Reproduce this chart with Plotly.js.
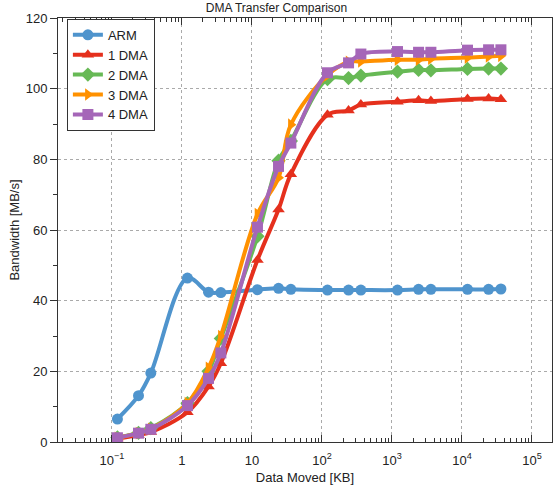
<!DOCTYPE html>
<html>
<head>
<meta charset="utf-8">
<script src="https://cdn.plot.ly/plotly-3.0.1.min.js"></script>
<style>html,body{margin:0;padding:0;background:#fff;}#chart{width:553px;height:488px;}</style>
</head>
<body>
<div id="chart"></div>
<script>
// Data moved [KB]
var dataMoved = [0.12, 0.24, 0.36, 1.2, 2.4, 3.6, 12, 24, 36, 120, 240, 360, 1200, 2400, 3600, 12000, 24000, 36000];
var seriesNames = ["ARM", "1 DMA", "2 DMA", "3 DMA", "4 DMA"];
var armBW  = [6.5, 13.1, 19.5, 46.4, 42.4, 42.3, 43.1, 43.5, 43.2, 43.0, 43.0, 43.0, 43.0, 43.2, 43.2, 43.2, 43.2, 43.3];
var dma1BW = [1.0, 2.0, 2.8, 8.4, 15.7, 22.3, 51.5, 65.8, 75.8, 92.6, 93.8, 95.5, 96.3, 96.7, 96.5, 97.1, 97.2, 97.0];
var dma2BW = [1.3, 2.6, 3.9, 11.0, 20.0, 29.3, 58.2, 79.6, 85.2, 102.7, 103.0, 103.7, 104.8, 105.3, 105.2, 105.6, 105.7, 105.7];
var dma3BW = [1.2, 2.5, 3.7, 11.0, 21.0, 30.0, 64.5, 74.8, 89.8, 103.8, 107.6, 107.7, 108.2, 108.2, 108.5, 108.8, 109.1, 109.3];
var dma4BW = [1.2, 2.5, 3.6, 10.3, 18.0, 25.2, 60.8, 78.0, 84.6, 104.5, 107.3, 109.8, 110.5, 110.3, 110.3, 110.9, 111.0, 111.0];
var xTickVals = [0.1, 1, 10, 100, 1000, 10000, 100000];
var xTickText = ["10<sup>\u22121</sup>", "1", "10", "10<sup>2</sup>", "10<sup>3</sup>", "10<sup>4</sup>", "10<sup>5</sup>"];

var colors = ["#4f94cd", "#e5301d", "#67b955", "#ff9100", "#a566b8"];
var symbols = ["circle", "triangle-up", "diamond", "triangle-right", "square"];
var ys = [armBW, dma1BW, dma2BW, dma3BW, dma4BW];

var minorVals = [];
for (var e = -2; e <= 5; e++) {
  for (var d = 2; d <= 9; d++) { minorVals.push(d * Math.pow(10, e)); }
}

var traces = ys.map(function (y, i) {
  return {
    x: dataMoved, y: y, name: seriesNames[i], type: "scatter", mode: "lines+markers",
    line: {color: colors[i], width: 4, shape: "spline", smoothing: 1},
    marker: {color: colors[i], symbol: symbols[i], size: 11, line: {width: 0}}
  };
});

var fontFam = "Liberation Sans, Arial, Helvetica, sans-serif";
var layout = {
  width: 553, height: 488,
  margin: {l: 58, r: 1, t: 18, b: 46},
  paper_bgcolor: "#fff", plot_bgcolor: "#fff",
  font: {family: fontFam, size: 13, color: "#222"},
  title: {text: "DMA Transfer Comparison", font: {size: 12, family: fontFam, color: "#222"}, x: 0.5, xanchor: "center", y: 0.985, yanchor: "middle"},
  showlegend: true,
  legend: {x: 0.018, y: 0.998, xanchor: "left", yanchor: "top", bgcolor: "#fff", bordercolor: "#333", borderwidth: 1, font: {size: 13}, itemwidth: 30},
  xaxis: {
    type: "log", range: [Math.log10(0.017), 5.286],
    tickmode: "array", tickvals: xTickVals, ticktext: xTickText,
    ticks: "inside", ticklen: 7, tickcolor: "#333", ticklabelstandoff: 6,
    showline: true, linecolor: "#333", linewidth: 1, mirror: "ticks",
    showgrid: true, gridcolor: "#aaa", griddash: "dot", gridwidth: 1,
    minor: {tickmode: "array", tickvals: minorVals, ticks: "inside", ticklen: 4, tickcolor: "#333", showgrid: false},
    zeroline: false,
    title: {text: "Data Moved [KB]", font: {size: 13}, standoff: 6},
    tickfont: {size: 13}
  },
  yaxis: {
    range: [0, 120], tickvals: [0, 20, 40, 60, 80, 100, 120],
    ticks: "outside", ticklen: 7, tickcolor: "#333",
    showline: true, linecolor: "#333", linewidth: 1, mirror: true,
    showgrid: true, gridcolor: "#aaa", griddash: "dot", gridwidth: 1,
    minor: {dtick: 10, ticks: "outside", ticklen: 4, tickcolor: "#333", showgrid: false},
    zeroline: false,
    title: {text: "Bandwidth [MB/s]", font: {size: 13}, standoff: 3},
    tickfont: {size: 13}
  }
};

Plotly.newPlot("chart", traces, layout, {displayModeBar: false, staticPlot: true});
</script>
</body>
</html>
